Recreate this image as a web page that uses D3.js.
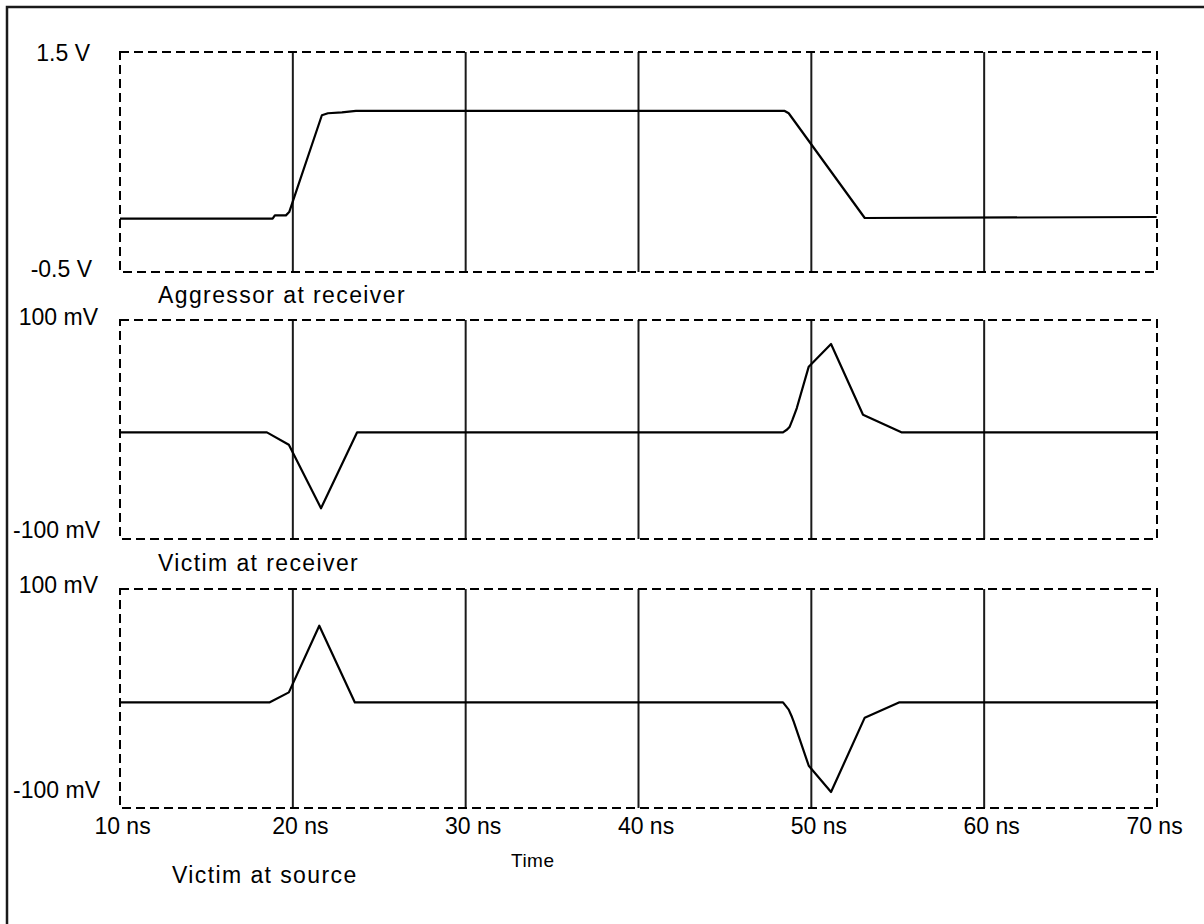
<!DOCTYPE html>
<html>
<head>
<meta charset="utf-8">
<script src="https://cdn.jsdelivr.net/npm/d3@7"></script>
<style>
  body { margin: 0; background: #fff; }
  text { font-family: "Liberation Sans", Arial, sans-serif; fill: #000; }
</style>
</head>
<body>
<script>
'use strict';

// time axis (ns)
let timeTicks = [10, 20, 30, 40, 50, 60, 70];
let gridTimes = [20, 30, 40, 50, 60];

// aggressor at receiver (V)
let aggTime = [10, 18.83, 18.96, 19.60, 19.79, 21.68, 22.03, 22.84, 23.65, 48.46, 48.69, 53.09, 69.98];
let aggVolt = [-0.015, -0.015, 0.015, 0.015, 0.045, 0.925, 0.943, 0.952, 0.964, 0.964, 0.943, -0.009, 0.0];

// victim at receiver (mV)
let vrTime = [10, 18.50, 19.77, 21.63, 23.72, 48.36, 48.60, 48.75, 48.90, 49.16, 49.85, 51.14, 52.99, 55.21, 69.98];
let vrMv = [-2.6, -2.6, -13.9, -72, -2.6, -2.6, 0, 2.6, 8.5, 19.6, 57.4, 78.1, 13.5, -2.6, -2.6];

// victim at source (mV)
let vsTime = [10, 18.64, 19.77, 21.53, 23.59, 48.36, 48.69, 48.88, 48.98, 49.85, 51.14, 53.09, 55.07, 69.98];
let vsMv = [-3.6, -3.6, 5.6, 66.5, -3.6, -3.6, -10.2, -16.9, -21.2, -61.4, -85.4, -17.5, -3.6, -3.6];

// labels
let panelNames = ["Aggressor at receiver", "Victim at receiver", "Victim at source"];
let yTopLabels = ["1.5 V", "100 mV", "100 mV"];
let yBottomLabels = ["-0.5 V", "-100 mV", "-100 mV"];
let yDomains = [[-0.5, 1.5], [-100, 100], [-100, 100]];

let svg = d3.select('body').append('svg')
  .attr('width', 1204)
  .attr('height', 924);

// outer frame (runs off the page at right and bottom)
svg.append('rect')
  .attr('x', 7).attr('y', 7)
  .attr('width', 1300).attr('height', 1000)
  .attr('fill', 'none')
  .attr('stroke', '#1a1a1a')
  .attr('stroke-width', 2.5);

let xScale = d3.scaleLinear().domain([10, 70]).range([120, 1157]);

// panel layout
let panels = [
  { top: 52, bottom: 272, labX: 90, topLabY: 61, botLabY: 277, nameX: 158, nameY: 303 },
  { top: 320, bottom: 539, labX: 98, topLabY: 325, botLabY: 538, nameX: 158, nameY: 571 },
  { top: 589, bottom: 808, labX: 98, topLabY: 593, botLabY: 798, nameX: 172, nameY: 883 }
];

let series = [
  aggTime.map((t, i) => ({ t: t, v: aggVolt[i] })),
  vrTime.map((t, i) => ({ t: t, v: vrMv[i] })),
  vsTime.map((t, i) => ({ t: t, v: vsMv[i] }))
];

panels.forEach(function(p, k) {
  let yScale = d3.scaleLinear().domain(yDomains[k]).range([p.bottom, p.top]);
  let g = svg.append('g');

  // vertical grid lines
  g.selectAll('.grid')
    .data(gridTimes)
    .enter()
    .append('line')
      .attr('x1', d => xScale(d))
      .attr('x2', d => xScale(d))
      .attr('y1', yScale(yDomains[k][1]))
      .attr('y2', yScale(yDomains[k][0]))
      .attr('stroke', '#1a1a1a')
      .attr('stroke-width', 2);

  // dashed panel frame
  g.append('rect')
    .attr('x', xScale(10))
    .attr('y', yScale(yDomains[k][1]))
    .attr('width', xScale(70) - xScale(10))
    .attr('height', yScale(yDomains[k][0]) - yScale(yDomains[k][1]))
    .attr('fill', 'none')
    .attr('stroke', '#000')
    .attr('stroke-width', 2)
    .attr('stroke-dasharray', '9,5');

  // waveform
  let line = d3.line()
    .x(d => xScale(d.t))
    .y(d => yScale(d.v));

  g.append('path')
    .datum(series[k])
    .attr('fill', 'none')
    .attr('stroke', '#000')
    .attr('stroke-width', 2.2)
    .attr('stroke-linejoin', 'round')
    .attr('d', line);

  // y labels at top and bottom of the panel
  g.append('text')
    .attr('x', p.labX)
    .attr('y', p.topLabY)
    .attr('text-anchor', 'end')
    .style('font-size', '23px')
    .text(yTopLabels[k]);

  g.append('text')
    .attr('x', p.labX + 2)
    .attr('y', p.botLabY)
    .attr('text-anchor', 'end')
    .style('font-size', '23px')
    .text(yBottomLabels[k]);

  // panel name
  g.append('text')
    .attr('x', p.nameX)
    .attr('y', p.nameY)
    .style('font-size', '23px')
    .style('letter-spacing', '1.4px')
    .text(panelNames[k]);
});

// time axis labels under the last panel
let xAxis = d3.axisBottom(xScale)
  .tickValues(timeTicks)
  .tickSize(0)
  .tickPadding(0)
  .tickFormat(d => d + ' ns');

let axisG = svg.append('g')
  .attr('transform', 'translate(0, 834)')
  .call(xAxis);

axisG.select('.domain').remove();
axisG.selectAll('text')
  .attr('y', 0)
  .attr('dy', 0)
  .attr('dx', (d, i) => i === 0 ? 2 : (i === timeTicks.length - 1 ? -3 : 7))
  .style('font-size', '23px')
  .style('font-family', '"Liberation Sans", Arial, sans-serif')
  .attr('fill', '#000');

svg.append('text')
  .attr('x', 511)
  .attr('y', 867)
  .style('font-size', '19px')
  .style('letter-spacing', '0.5px')
  .text('Time');
</script>
</body>
</html>
